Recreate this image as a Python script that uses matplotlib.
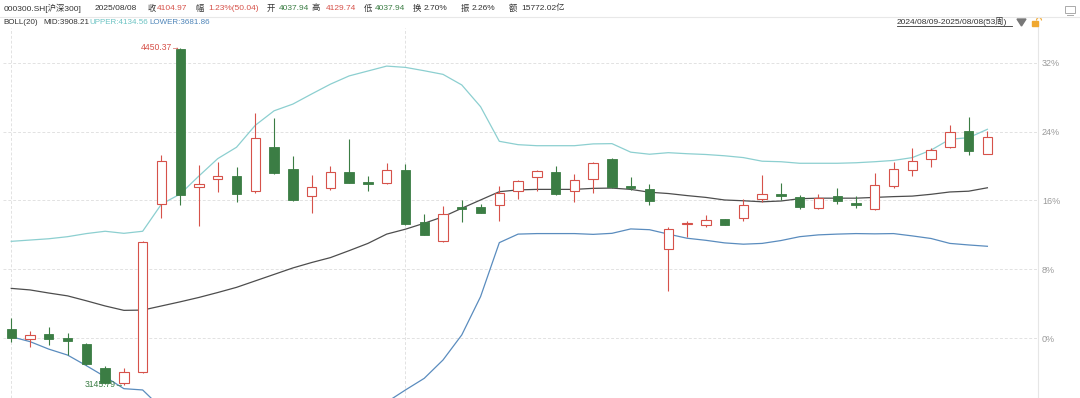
import matplotlib
matplotlib.use("Agg")
import matplotlib.pyplot as plt
from matplotlib.patches import Rectangle, Arc, Polygon
from matplotlib.lines import Line2D

plt.rcParams['font.family'] = ['Liberation Sans', 'Noto Sans CJK SC', 'DejaVu Sans']

# weekly candles of 000300.SH, 2024/08/09 - 2025/08/08 (53 weeks)
opens = [3360.7, 3324.3, 3341.3, 3327.0, 3305.0, 3209.8, 3154.1, 3196.6, 3844.3, 4447.0,
         3911.2, 3943.3, 3952.6, 3894.6, 4064.8, 3980.9, 3875.2, 3906.2, 3970.4, 3929.4,
         3925.5, 3975.8, 3774.6, 3701.1, 3833.8, 3835.0, 3840.4, 3894.6, 3951.1, 3970.4,
         3896.9, 3942.2, 4018.4, 3915.1, 3902.3, 3671.3, 3766.9, 3765.3, 3786.2, 3791.3,
         3863.6, 3885.3, 3873.7, 3830.0, 3875.2, 3850.5, 3827.2, 3916.2, 3975.8, 4019.5,
         4067.1, 4127.9, 4037.94]
highs = [3405.5, 3354.1, 3370.7, 3347.5, 3307.7, 3218.7, 3209.8, 3703.4, 4035.0, 4450.37,
         3995.2, 4007.9, 3987.4, 4198.7, 4178.2, 4031.2, 3957.6, 3991.3, 4095.7, 3953.8,
         4004.1, 3999.2, 3806.8, 3837.7, 3860.9, 3846.6, 3915.1, 3938.3, 3978.2, 3993.6,
         3962.7, 4009.1, 4022.3, 3948.7, 3922.8, 3757.6, 3780.8, 3802.9, 3787.0, 3863.6,
         3957.6, 3927.8, 3880.3, 3884.1, 3906.2, 3876.4, 3966.5, 4009.1, 4062.1, 4060.9,
         4151.1, 4180.9, 4129.74]
lows = [3312.7, 3293.3, 3299.9, 3262.4, 3222.5, 3150.0, 3145.79, 3192.7, 3792.4, 3841.6,
        3761.5, 3893.0, 3854.3, 3886.8, 3962.0, 3857.0, 3809.5, 3899.6, 3926.0, 3896.9,
        3924.0, 3766.0, 3724.0, 3700.0, 3776.9, 3809.0, 3780.8, 3864.8, 3896.9, 3882.0,
        3852.0, 3886.8, 3906.0, 3899.6, 3840.4, 3510.0, 3718.9, 3757.6, 3764.0, 3779.7,
        3854.3, 3860.9, 3824.9, 3827.2, 3846.6, 3831.1, 3823.4, 3908.5, 3952.6, 3989.8,
        4060.9, 4035.0, 4037.94]
closes = [3327.0, 3339.8, 3322.0, 3314.2, 3225.2, 3151.7, 3194.3, 3698.4, 4013.0, 3880.3,
          3921.7, 3952.6, 3885.3, 4099.6, 3964.2, 3859.8, 3911.2, 3968.1, 3927.8, 3922.8,
          3977.0, 3768.1, 3725.5, 3805.6, 3826.1, 3810.6, 3886.8, 3933.3, 3974.3, 3884.1,
          3939.5, 4002.9, 3910.1, 3908.5, 3857.1, 3747.5, 3771.9, 3782.4, 3765.3, 3840.4,
          3884.1, 3877.6, 3833.8, 3869.8, 3858.2, 3841.6, 3917.8, 3979.7, 4010.6, 4054.4,
          4122.8, 4049.3, 4104.97]

# BOLL(20) bands
boll_upper = [3701, 3706, 3711, 3719, 3731, 3740, 3732, 3740, 3845, 3884,
              3954, 4021, 4065, 4150, 4206, 4232, 4271, 4309, 4341, 4360,
              4379, 4374, 4361, 4347, 4306, 4222, 4088, 4075, 4071, 4071,
              4071, 4078, 4079, 4046, 4038, 4044, 4040, 4037, 4032, 4025,
              4011, 4009, 4003, 4003, 4003, 4005, 4009, 4014, 4025, 4054,
              4096, 4102, 4134.56]
boll_mid = [3519, 3513, 3501, 3490, 3471, 3451, 3434, 3435, 3451, 3467,
            3484, 3503, 3523, 3548, 3573, 3598, 3619, 3638, 3665, 3693,
            3729, 3748, 3771, 3796, 3829, 3861, 3893, 3900, 3902, 3902,
            3902, 3906, 3907, 3902, 3891, 3886, 3878, 3871, 3861, 3858,
            3854, 3857, 3866, 3868, 3868, 3868, 3871, 3874, 3876, 3883,
            3892, 3895, 3908.21]
boll_lower = [3332, 3313, 3284, 3261, 3220, 3177, 3131, 3126, 3056, 3051,
              3014, 2985, 2981, 2945, 2939, 2963, 2967, 2968, 2989, 3027,
              3079, 3126, 3171, 3242, 3339, 3487, 3696, 3729, 3731, 3731,
              3731, 3728, 3732, 3749, 3746, 3729, 3713, 3705, 3695, 3690,
              3693, 3704, 3719, 3726, 3729, 3731, 3730, 3731, 3722, 3712,
              3693, 3687, 3681.86]

pct_ticks = [0, 8, 16, 24, 32]
base = closes[0]

RED = '#d6524a'
GREEN = '#3b7d44'
DARK = '#333333'
W, H = 1080, 398

fig = plt.figure(figsize=(W / 100, H / 100), dpi=100)
ax = fig.add_axes([3 / W, 0, (1037.7 - 3) / W, 370.5 / H])

# candles
bw = 0.5
for i in range(len(opens)):
    o, h, l, c = opens[i], highs[i], lows[i], closes[i]
    lo, hi = min(o, c), max(o, c)
    if c >= o:
        ax.vlines(i, hi, h, color=RED, lw=0.8, zorder=2)
        ax.vlines(i, l, lo, color=RED, lw=0.8, zorder=2)
        ax.add_patch(Rectangle((i - bw / 2, lo), bw, max(hi - lo, 2), facecolor='white',
                               edgecolor=RED, lw=0.8, zorder=3))
    else:
        ax.vlines(i, l, h, color=GREEN, lw=0.8, zorder=2)
        ax.add_patch(Rectangle((i - bw / 2, lo), bw, max(hi - lo, 2), facecolor=GREEN,
                               edgecolor=GREEN, lw=0.6, zorder=3))

x = list(range(len(opens)))
ax.plot(x, boll_upper, color='#8ccfd0', lw=0.9, zorder=1)
ax.plot(x, boll_mid, color='#4d4d4d', lw=0.9, zorder=1)
ax.plot(x, boll_lower, color='#5a8cbe', lw=0.9, zorder=1)

# max / min markers
ax.text(9, 4450.37, '4450.37→', color=RED, ha='right', va='center', fontsize=6.2, zorder=5)
ax.text(6, 3145.79, '3145.79→', color=GREEN, ha='right', va='center', fontsize=6.2, zorder=5)

ax.set_xlim(-0.44, 54.68)
ax.set_ylim(3094.9, 4528.3)

ax.yaxis.tick_right()
ax.set_yticks([base * (1 + p / 100) for p in pct_ticks])
ax.set_yticklabels([f'{p}%' for p in pct_ticks])
ax.tick_params(axis='y', length=0, pad=3, labelsize=6.5, labelcolor='#9a9a9a')
ax.set_xticks([0, 21])
ax.tick_params(axis='x', length=0, labelbottom=False)
ax.grid(True, linestyle=(0, (3, 2)), color='#e2e2e2', lw=0.7, zorder=0)
ax.set_axisbelow(True)
for s in ['top', 'left', 'bottom']:
    ax.spines[s].set_visible(False)
ax.spines['right'].set_color('#e6e6e6')
ax.spines['right'].set_linewidth(0.8)

# header row
header = [
    (4, '000300.SH[沪深300]', DARK), (95, '2025/08/08', DARK),
    (148, '收', DARK), (157, '4104.97', RED),
    (195, '幅', DARK), (208, '1.23%(50.04)', RED),
    (267, '开', DARK), (279, '4037.94', GREEN),
    (311, '高', DARK), (326, '4129.74', RED),
    (364, '低', DARK), (375, '4037.94', GREEN),
    (413, '换', DARK), (424, '2.70%', DARK),
    (461, '振', DARK), (472, '2.26%', DARK),
    (509, '额', DARK), (521, '15772.02亿', DARK),
]
for hx, txt, col in header:
    fig.text(hx / W, 1 - 8.5 / H, txt, color=col, fontsize=6.0, va='center', ha='left')

boll_lbl = [(3, 'BOLL(20)', DARK), (43, 'MID:3908.21', DARK),
            (89, 'UPPER:4134.56', '#6cc3c3'), (149, 'LOWER:3681.86', '#4d84b8')]
for bx, txt, col in boll_lbl:
    fig.text(bx / W, 1 - 22.5 / H, txt, color=col, fontsize=5.8, va='center', ha='left')

fig.text(897 / W, 1 - 21.5 / H, '2024/08/09-2025/08/08(53周)', color=DARK,
         fontsize=6, va='center', ha='left')
fig.add_artist(Line2D([897 / W, 1012 / W], [1 - 26 / H] * 2, color=DARK, lw=0.6,
                      transform=fig.transFigure))
fig.add_artist(Line2D([0, 1], [1 - 16.5 / H] * 2, color='#e8e8e8', lw=0.8,
                      transform=fig.transFigure))

# small icons
fig.add_artist(Polygon([[1017 / W, 1 - 19 / H], [1026 / W, 1 - 19 / H], [1021.5 / W, 1 - 26 / H]],
                       closed=True, color='#777777', transform=fig.transFigure))
fig.add_artist(Rectangle((1032 / W, 1 - 26 / H), 6 / W, 5 / H, color='#f0a830',
                         transform=fig.transFigure))
fig.add_artist(Arc((1039 / W, 1 - 20.5 / H), 5 / W, 6 / H, theta1=0, theta2=180,
                   color='#f0a830', lw=0.8, transform=fig.transFigure))
fig.add_artist(Rectangle((1065 / W, 1 - 13 / H), 10 / W, 7.5 / H, fill=False,
                         edgecolor='#aaaaaa', lw=0.7, transform=fig.transFigure))
fig.add_artist(Line2D([1067 / W, 1073 / W], [1 - 15 / H] * 2, color='#aaaaaa', lw=0.7,
                      transform=fig.transFigure))

fig.savefig('out.png', dpi=100)
